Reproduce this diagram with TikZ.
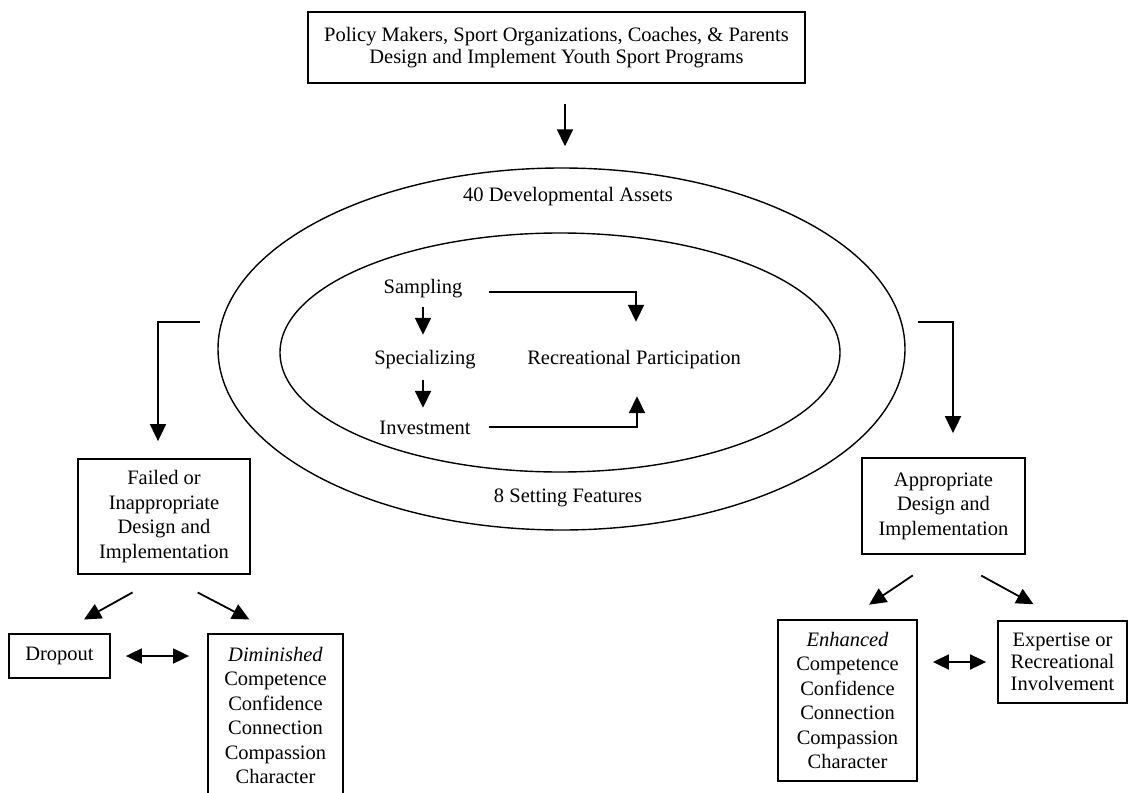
\documentclass[tikz,border=0pt]{standalone}
\usepackage{fontspec}
\setmainfont{Liberation Serif}
\usetikzlibrary{arrows.meta,shapes.geometric}
\begin{document}
\begin{tikzpicture}[x=1pt,y=-1pt,
  txt/.style={font=\fontsize{20.5pt}{24.5pt}\selectfont},
  box/.style={txt, draw, line width=1.8pt, align=center, inner sep=0pt},
  lbl/.style={txt, inner sep=0pt, text height=14pt, text depth=4.5pt},
  ring/.style={ellipse, draw, line width=1.4pt, inner sep=0pt},
  arr/.style={line width=1.8pt, -{Triangle[length=17pt,width=16pt]}},
  darr/.style={line width=1.8pt, {Triangle[length=16pt,width=15pt]}-{Triangle[length=16pt,width=15pt]}},
]
\useasboundingbox (0,0) rectangle (1129,792);
\clip (0,0) rectangle (1129,792);

% programme designers
\node[box, minimum width=497pt, minimum height=71pt,
      font=\fontsize{20.5pt}{21.5pt}\selectfont] (top) at (556.5,47.5)
  {Policy Makers, Sport Organizations, Coaches, \& Parents\\Design and Implement Youth Sport Programs};

% assets and setting rings
\node[ring, minimum width=687pt, minimum height=362pt] (outer) at (561.5,349) {};
\node[ring, minimum width=560pt, minimum height=239pt] (inner) at (560,352.5) {};
\node[lbl] (assets)  at (568,197) {40 Developmental Assets};
\node[lbl] (setting) at (568,498) {8 Setting Features};

% participation pathways
\node[lbl] (samp) at (423,289) {Sampling};
\node[lbl] (spec) at (425,360) {Specializing};
\node[lbl] (inv)  at (425,430) {Investment};
\node[lbl] (rp)   at (634,360) {Recreational Participation};

\draw[arr, shorten <=8.75pt, shorten >=15.75pt] (samp.south) -- (samp.south |- spec.north);
\draw[arr, shorten <=10.75pt, shorten >=12.75pt] (samp.south |- spec.south) -- (samp.south |- inv.north);
\draw[arr, shorten <=26.7pt, shorten >=28.75pt] ([yshift=-3pt]samp.east) -| ([xshift=2pt]rp.north);
\draw[arr, shorten <=18.5pt, shorten >=26.75pt] ([yshift=3pt]inv.east) -| ([xshift=3pt]rp.south);

% outcomes of the programmes
\node[box, minimum width=172pt, minimum height=115pt] (failed) at (164,516.5)
  {Failed or\\Inappropriate\\Design and\\Implementation};
\node[box, minimum width=101pt, minimum height=44pt] (drop) at (59.5,656) {Dropout};
\node[box, minimum width=135pt, minimum height=163pt] (dim) at (275.5,715.5)
  {\textit{Diminished}\\Competence\\Confidence\\Connection\\Compassion\\Character};

\node[box, minimum width=163pt, minimum height=96pt] (app) at (943.5,506)
  {Appropriate\\Design and\\Implementation};
\node[box, minimum width=139pt, minimum height=161pt] (enh) at (847.5,700.5)
  {\textit{Enhanced}\\Competence\\Confidence\\Connection\\Compassion\\Character};
\node[box, minimum width=129pt, minimum height=82pt, font=\fontsize{20.5pt}{22pt}\selectfont] (exp) at (1062.5,662)
  {Expertise or\\Recreational\\Involvement};

% connectors
\draw[arr, shorten <=20pt, shorten >=21pt] ([xshift=8.5pt]top.south) -- ([xshift=3.5pt]outer.north);

\coordinate (lb) at (200,322);
\coordinate (rb) at (918,322);
\draw[arr, shorten >=17pt] (lb) -| ([xshift=-6pt]failed.north);
\draw[arr, shorten >=24pt] (rb) -| ([xshift=9.5pt]app.north);

\draw[arr, shorten <=36pt, shorten >=28pt] (failed.south) -- (drop.north);
\draw[arr, shorten <=38pt, shorten >=29.5pt] (failed.south) -- (dim.north);
\draw[arr, shorten <=37pt, shorten >=26pt] (app.south) -- (enh.north);
\draw[arr, shorten <=43pt, shorten >=33pt] (app.south) -- (exp.north);

\draw[darr, shorten <=15pt, shorten >=18pt] (drop.east) -- (drop.east -| dim.west);
\draw[darr, shorten <=15pt, shorten >=11pt] (exp.west -| enh.east) -- (exp.west);
\end{tikzpicture}
\end{document}
